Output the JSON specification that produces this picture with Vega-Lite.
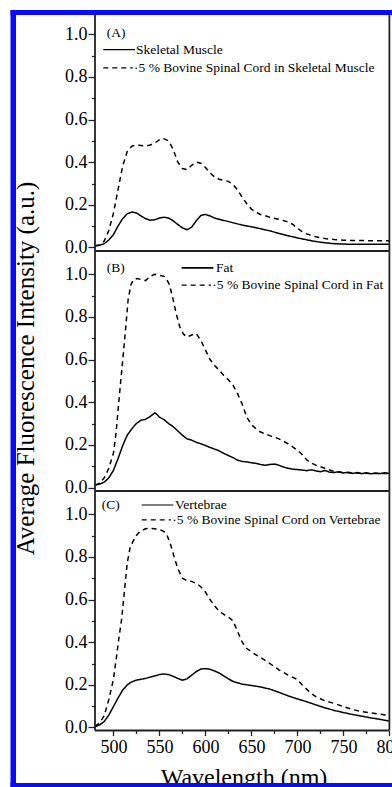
{
  "$schema": "https://vega.github.io/schema/vega-lite/v6.json",
  "width": 392,
  "height": 787,
  "padding": 0,
  "autosize": {"type": "none"},
  "background": "white",
  "data": {"values": [{}]},
  "config": {
    "view": {"stroke": null},
    "axis": {"labelFont": "Liberation Serif", "titleFont": "Liberation Serif", "labelColor": "black", "titleColor": "black", "tickColor": "#222", "tickWidth": 1.3, "labelFontSize": 18, "grid": false, "domain": false, "labelFlush": false, "labelOverlap": false, "labelBound": false, "titleFontWeight": "normal"},
    "text": {"font": "Liberation Serif", "fontSize": 13.5, "color": "black", "align": "left", "baseline": "middle"}
  },
  "datasets": {
    "A": [
      {"w":480,"v":0.008,"s":"solid"},{"w":485,"v":0.01,"s":"solid"},{"w":490,"v":0.018,"s":"solid"},{"w":495,"v":0.035,"s":"solid"},{"w":500,"v":0.06,"s":"solid"},{"w":505,"v":0.1,"s":"solid"},{"w":510,"v":0.135,"s":"solid"},{"w":515,"v":0.158,"s":"solid"},{"w":520,"v":0.166,"s":"solid"},{"w":525,"v":0.162,"s":"solid"},{"w":530,"v":0.148,"s":"solid"},{"w":535,"v":0.135,"s":"solid"},{"w":540,"v":0.128,"s":"solid"},{"w":545,"v":0.13,"s":"solid"},{"w":550,"v":0.138,"s":"solid"},{"w":555,"v":0.142,"s":"solid"},{"w":560,"v":0.138,"s":"solid"},{"w":565,"v":0.125,"s":"solid"},{"w":570,"v":0.108,"s":"solid"},{"w":575,"v":0.092,"s":"solid"},{"w":580,"v":0.083,"s":"solid"},{"w":585,"v":0.095,"s":"solid"},{"w":590,"v":0.125,"s":"solid"},{"w":595,"v":0.15,"s":"solid"},{"w":600,"v":0.155,"s":"solid"},{"w":605,"v":0.148,"s":"solid"},{"w":610,"v":0.138,"s":"solid"},{"w":620,"v":0.127,"s":"solid"},{"w":630,"v":0.116,"s":"solid"},{"w":640,"v":0.105,"s":"solid"},{"w":650,"v":0.097,"s":"solid"},{"w":660,"v":0.088,"s":"solid"},{"w":670,"v":0.078,"s":"solid"},{"w":680,"v":0.066,"s":"solid"},{"w":690,"v":0.055,"s":"solid"},{"w":700,"v":0.045,"s":"solid"},{"w":710,"v":0.036,"s":"solid"},{"w":720,"v":0.028,"s":"solid"},{"w":730,"v":0.022,"s":"solid"},{"w":740,"v":0.018,"s":"solid"},{"w":750,"v":0.016,"s":"solid"},{"w":760,"v":0.015,"s":"solid"},{"w":780,"v":0.015,"s":"solid"},{"w":800,"v":0.015,"s":"solid"},
      {"w":480,"v":0.008,"s":"dashed"},{"w":485,"v":0.012,"s":"dashed"},{"w":490,"v":0.03,"s":"dashed"},{"w":495,"v":0.08,"s":"dashed"},{"w":500,"v":0.16,"s":"dashed"},{"w":505,"v":0.27,"s":"dashed"},{"w":510,"v":0.38,"s":"dashed"},{"w":515,"v":0.45,"s":"dashed"},{"w":520,"v":0.475,"s":"dashed"},{"w":525,"v":0.48,"s":"dashed"},{"w":530,"v":0.478,"s":"dashed"},{"w":535,"v":0.476,"s":"dashed"},{"w":540,"v":0.48,"s":"dashed"},{"w":545,"v":0.49,"s":"dashed"},{"w":550,"v":0.505,"s":"dashed"},{"w":555,"v":0.51,"s":"dashed"},{"w":560,"v":0.5,"s":"dashed"},{"w":565,"v":0.46,"s":"dashed"},{"w":570,"v":0.4,"s":"dashed"},{"w":575,"v":0.37,"s":"dashed"},{"w":580,"v":0.365,"s":"dashed"},{"w":585,"v":0.385,"s":"dashed"},{"w":590,"v":0.4,"s":"dashed"},{"w":595,"v":0.395,"s":"dashed"},{"w":600,"v":0.375,"s":"dashed"},{"w":605,"v":0.35,"s":"dashed"},{"w":610,"v":0.33,"s":"dashed"},{"w":615,"v":0.32,"s":"dashed"},{"w":620,"v":0.315,"s":"dashed"},{"w":625,"v":0.31,"s":"dashed"},{"w":630,"v":0.295,"s":"dashed"},{"w":635,"v":0.27,"s":"dashed"},{"w":640,"v":0.235,"s":"dashed"},{"w":645,"v":0.205,"s":"dashed"},{"w":650,"v":0.18,"s":"dashed"},{"w":655,"v":0.165,"s":"dashed"},{"w":660,"v":0.155,"s":"dashed"},{"w":670,"v":0.142,"s":"dashed"},{"w":680,"v":0.132,"s":"dashed"},{"w":690,"v":0.12,"s":"dashed"},{"w":695,"v":0.108,"s":"dashed"},{"w":700,"v":0.09,"s":"dashed"},{"w":705,"v":0.075,"s":"dashed"},{"w":710,"v":0.064,"s":"dashed"},{"w":720,"v":0.05,"s":"dashed"},{"w":730,"v":0.042,"s":"dashed"},{"w":740,"v":0.037,"s":"dashed"},{"w":750,"v":0.034,"s":"dashed"},{"w":760,"v":0.033,"s":"dashed"},{"w":780,"v":0.032,"s":"dashed"},{"w":800,"v":0.032,"s":"dashed"}
    ],
    "B": [
      {"w":480,"v":0.012,"s":"solid"},{"w":485,"v":0.016,"s":"solid"},{"w":490,"v":0.025,"s":"solid"},{"w":495,"v":0.045,"s":"solid"},{"w":500,"v":0.08,"s":"solid"},{"w":505,"v":0.135,"s":"solid"},{"w":510,"v":0.195,"s":"solid"},{"w":515,"v":0.245,"s":"solid"},{"w":520,"v":0.275,"s":"solid"},{"w":525,"v":0.3,"s":"solid"},{"w":530,"v":0.315,"s":"solid"},{"w":535,"v":0.32,"s":"solid"},{"w":540,"v":0.333,"s":"solid"},{"w":545,"v":0.35,"s":"solid"},{"w":548,"v":0.34,"s":"solid"},{"w":550,"v":0.33,"s":"solid"},{"w":555,"v":0.318,"s":"solid"},{"w":560,"v":0.3,"s":"solid"},{"w":565,"v":0.285,"s":"solid"},{"w":570,"v":0.265,"s":"solid"},{"w":575,"v":0.245,"s":"solid"},{"w":580,"v":0.228,"s":"solid"},{"w":585,"v":0.222,"s":"solid"},{"w":590,"v":0.212,"s":"solid"},{"w":595,"v":0.205,"s":"solid"},{"w":600,"v":0.197,"s":"solid"},{"w":605,"v":0.188,"s":"solid"},{"w":610,"v":0.18,"s":"solid"},{"w":615,"v":0.172,"s":"solid"},{"w":620,"v":0.16,"s":"solid"},{"w":625,"v":0.15,"s":"solid"},{"w":630,"v":0.14,"s":"solid"},{"w":635,"v":0.128,"s":"solid"},{"w":640,"v":0.122,"s":"solid"},{"w":645,"v":0.12,"s":"solid"},{"w":650,"v":0.116,"s":"solid"},{"w":655,"v":0.113,"s":"solid"},{"w":660,"v":0.108,"s":"solid"},{"w":665,"v":0.104,"s":"solid"},{"w":670,"v":0.108,"s":"solid"},{"w":675,"v":0.11,"s":"solid"},{"w":680,"v":0.104,"s":"solid"},{"w":685,"v":0.096,"s":"solid"},{"w":690,"v":0.09,"s":"solid"},{"w":695,"v":0.086,"s":"solid"},{"w":700,"v":0.084,"s":"solid"},{"w":705,"v":0.082,"s":"solid"},{"w":710,"v":0.079,"s":"solid"},{"w":715,"v":0.083,"s":"solid"},{"w":720,"v":0.078,"s":"solid"},{"w":725,"v":0.074,"s":"solid"},{"w":730,"v":0.08,"s":"solid"},{"w":735,"v":0.072,"s":"solid"},{"w":740,"v":0.07,"s":"solid"},{"w":745,"v":0.074,"s":"solid"},{"w":750,"v":0.068,"s":"solid"},{"w":755,"v":0.072,"s":"solid"},{"w":760,"v":0.066,"s":"solid"},{"w":765,"v":0.07,"s":"solid"},{"w":770,"v":0.065,"s":"solid"},{"w":775,"v":0.069,"s":"solid"},{"w":780,"v":0.064,"s":"solid"},{"w":785,"v":0.068,"s":"solid"},{"w":790,"v":0.065,"s":"solid"},{"w":795,"v":0.069,"s":"solid"},{"w":800,"v":0.066,"s":"solid"},
      {"w":480,"v":0.01,"s":"dashed"},{"w":485,"v":0.02,"s":"dashed"},{"w":490,"v":0.045,"s":"dashed"},{"w":495,"v":0.09,"s":"dashed"},{"w":500,"v":0.16,"s":"dashed"},{"w":503,"v":0.26,"s":"dashed"},{"w":505,"v":0.36,"s":"dashed"},{"w":508,"v":0.5,"s":"dashed"},{"w":510,"v":0.59,"s":"dashed"},{"w":513,"v":0.73,"s":"dashed"},{"w":516,"v":0.88,"s":"dashed"},{"w":519,"v":0.95,"s":"dashed"},{"w":522,"v":0.975,"s":"dashed"},{"w":526,"v":0.98,"s":"dashed"},{"w":530,"v":0.975,"s":"dashed"},{"w":535,"v":0.97,"s":"dashed"},{"w":540,"v":0.99,"s":"dashed"},{"w":545,"v":1.0,"s":"dashed"},{"w":550,"v":0.995,"s":"dashed"},{"w":555,"v":0.99,"s":"dashed"},{"w":558,"v":0.975,"s":"dashed"},{"w":561,"v":0.95,"s":"dashed"},{"w":565,"v":0.88,"s":"dashed"},{"w":568,"v":0.82,"s":"dashed"},{"w":572,"v":0.755,"s":"dashed"},{"w":576,"v":0.72,"s":"dashed"},{"w":580,"v":0.705,"s":"dashed"},{"w":585,"v":0.715,"s":"dashed"},{"w":590,"v":0.722,"s":"dashed"},{"w":595,"v":0.69,"s":"dashed"},{"w":600,"v":0.645,"s":"dashed"},{"w":605,"v":0.6,"s":"dashed"},{"w":610,"v":0.572,"s":"dashed"},{"w":615,"v":0.55,"s":"dashed"},{"w":620,"v":0.525,"s":"dashed"},{"w":625,"v":0.505,"s":"dashed"},{"w":630,"v":0.48,"s":"dashed"},{"w":635,"v":0.44,"s":"dashed"},{"w":640,"v":0.39,"s":"dashed"},{"w":645,"v":0.33,"s":"dashed"},{"w":650,"v":0.295,"s":"dashed"},{"w":655,"v":0.275,"s":"dashed"},{"w":660,"v":0.26,"s":"dashed"},{"w":670,"v":0.243,"s":"dashed"},{"w":680,"v":0.228,"s":"dashed"},{"w":690,"v":0.205,"s":"dashed"},{"w":700,"v":0.175,"s":"dashed"},{"w":705,"v":0.155,"s":"dashed"},{"w":710,"v":0.13,"s":"dashed"},{"w":715,"v":0.115,"s":"dashed"},{"w":720,"v":0.105,"s":"dashed"},{"w":730,"v":0.09,"s":"dashed"},{"w":740,"v":0.075,"s":"dashed"},{"w":750,"v":0.07,"s":"dashed"},{"w":760,"v":0.068,"s":"dashed"},{"w":780,"v":0.066,"s":"dashed"},{"w":800,"v":0.066,"s":"dashed"}
    ],
    "C": [
      {"w":480,"v":0.004,"s":"solid"},{"w":485,"v":0.012,"s":"solid"},{"w":490,"v":0.028,"s":"solid"},{"w":495,"v":0.058,"s":"solid"},{"w":500,"v":0.098,"s":"solid"},{"w":505,"v":0.138,"s":"solid"},{"w":510,"v":0.175,"s":"solid"},{"w":515,"v":0.2,"s":"solid"},{"w":520,"v":0.214,"s":"solid"},{"w":525,"v":0.222,"s":"solid"},{"w":530,"v":0.226,"s":"solid"},{"w":535,"v":0.23,"s":"solid"},{"w":540,"v":0.236,"s":"solid"},{"w":545,"v":0.242,"s":"solid"},{"w":550,"v":0.248,"s":"solid"},{"w":555,"v":0.251,"s":"solid"},{"w":560,"v":0.248,"s":"solid"},{"w":565,"v":0.24,"s":"solid"},{"w":570,"v":0.23,"s":"solid"},{"w":575,"v":0.222,"s":"solid"},{"w":580,"v":0.228,"s":"solid"},{"w":585,"v":0.245,"s":"solid"},{"w":590,"v":0.262,"s":"solid"},{"w":595,"v":0.274,"s":"solid"},{"w":600,"v":0.276,"s":"solid"},{"w":605,"v":0.273,"s":"solid"},{"w":610,"v":0.265,"s":"solid"},{"w":615,"v":0.255,"s":"solid"},{"w":620,"v":0.242,"s":"solid"},{"w":625,"v":0.228,"s":"solid"},{"w":630,"v":0.216,"s":"solid"},{"w":640,"v":0.203,"s":"solid"},{"w":650,"v":0.197,"s":"solid"},{"w":660,"v":0.19,"s":"solid"},{"w":670,"v":0.18,"s":"solid"},{"w":680,"v":0.165,"s":"solid"},{"w":690,"v":0.148,"s":"solid"},{"w":700,"v":0.134,"s":"solid"},{"w":710,"v":0.121,"s":"solid"},{"w":720,"v":0.106,"s":"solid"},{"w":730,"v":0.092,"s":"solid"},{"w":740,"v":0.08,"s":"solid"},{"w":750,"v":0.07,"s":"solid"},{"w":760,"v":0.061,"s":"solid"},{"w":770,"v":0.053,"s":"solid"},{"w":780,"v":0.045,"s":"solid"},{"w":790,"v":0.038,"s":"solid"},{"w":800,"v":0.03,"s":"solid"},
      {"w":480,"v":0.006,"s":"dashed"},{"w":485,"v":0.02,"s":"dashed"},{"w":490,"v":0.055,"s":"dashed"},{"w":495,"v":0.13,"s":"dashed"},{"w":500,"v":0.225,"s":"dashed"},{"w":503,"v":0.32,"s":"dashed"},{"w":506,"v":0.42,"s":"dashed"},{"w":509,"v":0.51,"s":"dashed"},{"w":512,"v":0.64,"s":"dashed"},{"w":515,"v":0.77,"s":"dashed"},{"w":518,"v":0.84,"s":"dashed"},{"w":521,"v":0.87,"s":"dashed"},{"w":525,"v":0.9,"s":"dashed"},{"w":529,"v":0.92,"s":"dashed"},{"w":535,"v":0.932,"s":"dashed"},{"w":540,"v":0.933,"s":"dashed"},{"w":545,"v":0.932,"s":"dashed"},{"w":550,"v":0.929,"s":"dashed"},{"w":555,"v":0.918,"s":"dashed"},{"w":558,"v":0.905,"s":"dashed"},{"w":562,"v":0.86,"s":"dashed"},{"w":566,"v":0.8,"s":"dashed"},{"w":570,"v":0.745,"s":"dashed"},{"w":575,"v":0.7,"s":"dashed"},{"w":580,"v":0.688,"s":"dashed"},{"w":585,"v":0.685,"s":"dashed"},{"w":590,"v":0.675,"s":"dashed"},{"w":595,"v":0.66,"s":"dashed"},{"w":600,"v":0.635,"s":"dashed"},{"w":605,"v":0.6,"s":"dashed"},{"w":610,"v":0.57,"s":"dashed"},{"w":615,"v":0.545,"s":"dashed"},{"w":620,"v":0.53,"s":"dashed"},{"w":625,"v":0.518,"s":"dashed"},{"w":630,"v":0.5,"s":"dashed"},{"w":635,"v":0.45,"s":"dashed"},{"w":640,"v":0.4,"s":"dashed"},{"w":645,"v":0.37,"s":"dashed"},{"w":650,"v":0.355,"s":"dashed"},{"w":655,"v":0.34,"s":"dashed"},{"w":660,"v":0.328,"s":"dashed"},{"w":670,"v":0.3,"s":"dashed"},{"w":680,"v":0.27,"s":"dashed"},{"w":690,"v":0.245,"s":"dashed"},{"w":700,"v":0.225,"s":"dashed"},{"w":705,"v":0.2,"s":"dashed"},{"w":710,"v":0.18,"s":"dashed"},{"w":715,"v":0.16,"s":"dashed"},{"w":720,"v":0.145,"s":"dashed"},{"w":730,"v":0.125,"s":"dashed"},{"w":740,"v":0.113,"s":"dashed"},{"w":750,"v":0.098,"s":"dashed"},{"w":760,"v":0.084,"s":"dashed"},{"w":770,"v":0.075,"s":"dashed"},{"w":780,"v":0.068,"s":"dashed"},{"w":790,"v":0.062,"s":"dashed"},{"w":800,"v":0.057,"s":"dashed"}
    ]
  },
  "layer": [
    {
      "resolve": {"axis": {"x": "independent", "y": "independent"}},
      "layer": [
        {
          "data": {"name": "A"},
          "mark": {"type": "line", "color": "black", "strokeWidth": 1.5},
          "encoding": {
            "x": {"field": "w", "type": "quantitative", "scale": {"domain": [376.74, 802.83], "nice": false, "zero": false}, "axis": null},
            "y": {"field": "v", "type": "quantitative", "scale": {"domain": [-2.5293, 1.1603], "nice": false, "zero": false}, "axis": {"orient": "left", "offset": -95, "values": [0, 0.2, 0.4, 0.6, 0.8, 1.0], "format": ".1f", "tickSize": 7, "labelPadding": 1, "title": null}},
            "strokeDash": {"field": "s", "type": "nominal", "scale": {"domain": ["solid", "dashed"], "range": [[1, 0], [5, 4]]}, "legend": null}
          }
        },
        {
          "mark": {"type": "rule", "color": "#222", "strokeWidth": 1.8},
          "encoding": {
            "x": {"datum": 480, "type": "quantitative", "scale": {"domain": [376.74, 802.83], "nice": false, "zero": false}, "axis": null},
            "y": {"datum": -0.0164, "type": "quantitative", "scale": {"domain": [-2.5293, 1.1603], "nice": false, "zero": false}, "axis": {"orient": "left", "offset": -95, "values": [0.1, 0.3, 0.5, 0.7, 0.9], "labels": false, "tickSize": 3.5, "title": null}},
            "y2": {"datum": 1.09}
          }
        },
        {
          "mark": {"type": "rule", "color": "#222", "strokeWidth": 1.8},
          "encoding": {
            "x": {"datum": 800, "type": "quantitative", "axis": null},
            "y": {"datum": -0.0164, "type": "quantitative", "axis": null},
            "y2": {"datum": 1.09}
          }
        },
        {
          "mark": {"type": "rule", "color": "#222", "strokeWidth": 1.8},
          "encoding": {
            "x": {"datum": 480, "type": "quantitative", "axis": null},
            "x2": {"datum": 800},
            "y": {"datum": -0.0164, "type": "quantitative", "axis": null}
          }
        },
        {
          "mark": {"type": "rect", "color": "#0a0aff"},
          "encoding": {
            "x": {"datum": 388.15, "type": "quantitative", "axis": null},
            "x2": {"datum": 394.13},
            "y": {"datum": 1.1135, "type": "quantitative", "axis": null},
            "y2": {"datum": -2.5293}
          }
        },
        {
          "mark": {"type": "rect", "color": "#0a0aff"},
          "encoding": {
            "x": {"datum": 388.15, "type": "quantitative", "axis": null},
            "x2": {"datum": 802.83},
            "y": {"datum": 1.1135, "type": "quantitative", "axis": null},
            "y2": {"datum": 1.09}
          }
        },
        {
          "mark": {"type": "rule", "color": "black", "strokeWidth": 1.2},
          "encoding": {
            "x": {"datum": 489, "type": "quantitative", "axis": null},
            "x2": {"datum": 523.5},
            "y": {"datum": 0.928, "type": "quantitative", "axis": null}
          }
        },
        {
          "mark": {"type": "rule", "color": "black", "strokeWidth": 1.2, "strokeDash": [5, 4]},
          "encoding": {
            "x": {"datum": 489, "type": "quantitative", "axis": null},
            "x2": {"datum": 521},
            "y": {"datum": 0.842, "type": "quantitative", "axis": null}
          }
        },
        {
          "mark": {"type": "text", "font": "Liberation Serif", "fontSize": 13.5},
          "encoding": {
            "x": {"datum": 492.7, "type": "quantitative", "axis": null},
            "y": {"datum": 1.006, "type": "quantitative", "axis": null},
            "text": {"value": "(A)"}
          }
        },
        {
          "mark": {"type": "text", "font": "Liberation Serif", "fontSize": 13.5},
          "encoding": {
            "x": {"datum": 524.6, "type": "quantitative", "axis": null},
            "y": {"datum": 0.928, "type": "quantitative", "axis": null},
            "text": {"value": "Skeletal Muscle"}
          }
        },
        {
          "mark": {"type": "text", "font": "Liberation Serif", "fontSize": 13.5},
          "encoding": {
            "x": {"datum": 522.5, "type": "quantitative", "axis": null},
            "y": {"datum": 0.842, "type": "quantitative", "axis": null},
            "text": {"value": "·5 %  Bovine Spinal Cord in Skeletal Muscle"}
          }
        }
      ]
    },
    {
      "resolve": {"axis": {"x": "independent", "y": "independent"}},
      "layer": [
        {
          "data": {"name": "B"},
          "mark": {"type": "line", "color": "black", "strokeWidth": 1.5},
          "encoding": {
            "x": {"field": "w", "type": "quantitative", "scale": {"domain": [376.74, 802.83], "nice": false, "zero": false}, "axis": null},
            "y": {"field": "v", "type": "quantitative", "scale": {"domain": [-1.4041, 2.2855], "nice": false, "zero": false}, "axis": {"orient": "left", "offset": -95, "values": [0, 0.2, 0.4, 0.6, 0.8, 1.0], "format": ".1f", "tickSize": 7, "labelPadding": 1, "title": "Average Fluorescence Intensity (a.u.)", "titleFontSize": 25, "titleX": -70, "titleY": 368, "titleAngle": -90, "titleBaseline": "middle", "titleAlign": "center"}},
            "strokeDash": {"field": "s", "type": "nominal", "scale": {"domain": ["solid", "dashed"], "range": [[1, 0], [5, 4]]}, "legend": null}
          }
        },
        {
          "mark": {"type": "rule", "color": "#222", "strokeWidth": 1.8},
          "encoding": {
            "x": {"datum": 480, "type": "quantitative", "axis": null},
            "y": {"datum": -0.0164, "type": "quantitative", "scale": {"domain": [-1.4041, 2.2855], "nice": false, "zero": false}, "axis": {"orient": "left", "offset": -95, "values": [0.1, 0.3, 0.5, 0.7, 0.9], "labels": false, "tickSize": 3.5, "title": null}},
            "y2": {"datum": 1.1088}
          }
        },
        {
          "mark": {"type": "rule", "color": "#222", "strokeWidth": 1.8},
          "encoding": {
            "x": {"datum": 800, "type": "quantitative", "axis": null},
            "y": {"datum": -0.0164, "type": "quantitative", "axis": null},
            "y2": {"datum": 1.1088}
          }
        },
        {
          "mark": {"type": "rule", "color": "#222", "strokeWidth": 1.8},
          "encoding": {
            "x": {"datum": 480, "type": "quantitative", "axis": null},
            "x2": {"datum": 800},
            "y": {"datum": -0.0164, "type": "quantitative", "axis": null}
          }
        },
        {
          "mark": {"type": "rule", "color": "black", "strokeWidth": 1.8},
          "encoding": {
            "x": {"datum": 574.2, "type": "quantitative", "axis": null},
            "x2": {"datum": 608.6},
            "y": {"datum": 1.03, "type": "quantitative", "axis": null}
          }
        },
        {
          "mark": {"type": "rule", "color": "black", "strokeWidth": 1.2, "strokeDash": [5, 4]},
          "encoding": {
            "x": {"datum": 574.2, "type": "quantitative", "axis": null},
            "x2": {"datum": 606},
            "y": {"datum": 0.949, "type": "quantitative", "axis": null}
          }
        },
        {
          "mark": {"type": "text", "font": "Liberation Serif", "fontSize": 13.5},
          "encoding": {
            "x": {"datum": 492.7, "type": "quantitative", "axis": null},
            "y": {"datum": 1.031, "type": "quantitative", "axis": null},
            "text": {"value": "(B)"}
          }
        },
        {
          "mark": {"type": "text", "font": "Liberation Serif", "fontSize": 13.5},
          "encoding": {
            "x": {"datum": 611.5, "type": "quantitative", "axis": null},
            "y": {"datum": 1.03, "type": "quantitative", "axis": null},
            "text": {"value": "Fat"}
          }
        },
        {
          "mark": {"type": "text", "font": "Liberation Serif", "fontSize": 13.5},
          "encoding": {
            "x": {"datum": 607.5, "type": "quantitative", "axis": null},
            "y": {"datum": 0.949, "type": "quantitative", "axis": null},
            "text": {"value": "·5 % Bovine Spinal Cord in Fat"}
          }
        }
      ]
    },
    {
      "resolve": {"axis": {"x": "independent", "y": "independent"}},
      "layer": [
        {
          "data": {"name": "C"},
          "mark": {"type": "line", "color": "black", "strokeWidth": 1.5},
          "encoding": {
            "x": {"field": "w", "type": "quantitative", "scale": {"domain": [376.74, 802.83], "nice": false, "zero": false}, "axis": {"orient": "bottom", "offset": -56.5, "values": [500, 550, 600, 650, 700, 750, 800], "tickSize": 5, "labelPadding": 3, "labelFontSize": 18, "title": "Wavelength (nm)", "titleFontSize": 24, "titleX": 243.5, "titleY": 53.5, "titleBaseline": "alphabetic", "titleAlign": "center"}},
            "y": {"field": "v", "type": "quantitative", "scale": {"domain": [-0.279, 3.4107], "nice": false, "zero": false}, "axis": {"orient": "left", "offset": -95, "values": [0, 0.2, 0.4, 0.6, 0.8, 1.0], "format": ".1f", "tickSize": 7, "labelPadding": 1, "title": null}},
            "strokeDash": {"field": "s", "type": "nominal", "scale": {"domain": ["solid", "dashed"], "range": [[1, 0], [5, 4]]}, "legend": null}
          }
        },
        {
          "mark": {"type": "rule", "color": "#222", "strokeWidth": 1.8},
          "encoding": {
            "x": {"datum": 480, "type": "quantitative", "axis": {"orient": "bottom", "offset": -56.5, "values": [525, 575, 625, 675, 725, 775], "labels": false, "tickSize": 3, "title": null}},
            "y": {"datum": -0.0141, "type": "quantitative", "scale": {"domain": [-0.279, 3.4107], "nice": false, "zero": false}, "axis": {"orient": "left", "offset": -95, "values": [0.1, 0.3, 0.5, 0.7, 0.9], "labels": false, "tickSize": 3.5, "title": null}},
            "y2": {"datum": 1.1088}
          }
        },
        {
          "mark": {"type": "rule", "color": "#222", "strokeWidth": 1.8},
          "encoding": {
            "x": {"datum": 800, "type": "quantitative", "axis": null},
            "y": {"datum": -0.0141, "type": "quantitative", "axis": null},
            "y2": {"datum": 1.1088}
          }
        },
        {
          "mark": {"type": "rule", "color": "#222", "strokeWidth": 1.8},
          "encoding": {
            "x": {"datum": 480, "type": "quantitative", "axis": null},
            "x2": {"datum": 800},
            "y": {"datum": -0.0141, "type": "quantitative", "axis": null}
          }
        },
        {
          "mark": {"type": "rect", "color": "#0a0aff"},
          "encoding": {
            "x": {"datum": 388.15, "type": "quantitative", "axis": null},
            "x2": {"datum": 802.83},
            "y": {"datum": -0.2602, "type": "quantitative", "axis": null},
            "y2": {"datum": -0.279}
          }
        },
        {
          "mark": {"type": "rule", "color": "black", "strokeWidth": 1.2},
          "encoding": {
            "x": {"datum": 530.8, "type": "quantitative", "axis": null},
            "x2": {"datum": 565.1},
            "y": {"datum": 1.043, "type": "quantitative", "axis": null}
          }
        },
        {
          "mark": {"type": "rule", "color": "black", "strokeWidth": 1.2, "strokeDash": [5, 4]},
          "encoding": {
            "x": {"datum": 530.8, "type": "quantitative", "axis": null},
            "x2": {"datum": 562.5},
            "y": {"datum": 0.973, "type": "quantitative", "axis": null}
          }
        },
        {
          "mark": {"type": "text", "font": "Liberation Serif", "fontSize": 13.5},
          "encoding": {
            "x": {"datum": 487.3, "type": "quantitative", "axis": null},
            "y": {"datum": 1.043, "type": "quantitative", "axis": null},
            "text": {"value": "(C)"}
          }
        },
        {
          "mark": {"type": "text", "font": "Liberation Serif", "fontSize": 13.5},
          "encoding": {
            "x": {"datum": 567, "type": "quantitative", "axis": null},
            "y": {"datum": 1.043, "type": "quantitative", "axis": null},
            "text": {"value": "Vertebrae"}
          }
        },
        {
          "mark": {"type": "text", "font": "Liberation Serif", "fontSize": 13.5},
          "encoding": {
            "x": {"datum": 564, "type": "quantitative", "axis": null},
            "y": {"datum": 0.973, "type": "quantitative", "axis": null},
            "text": {"value": "·5 % Bovine Spinal Cord on Vertebrae"}
          }
        }
      ]
    }
  ],
  "resolve": {"scale": {"y": "independent"}, "axis": {"x": "independent", "y": "independent"}}
}
